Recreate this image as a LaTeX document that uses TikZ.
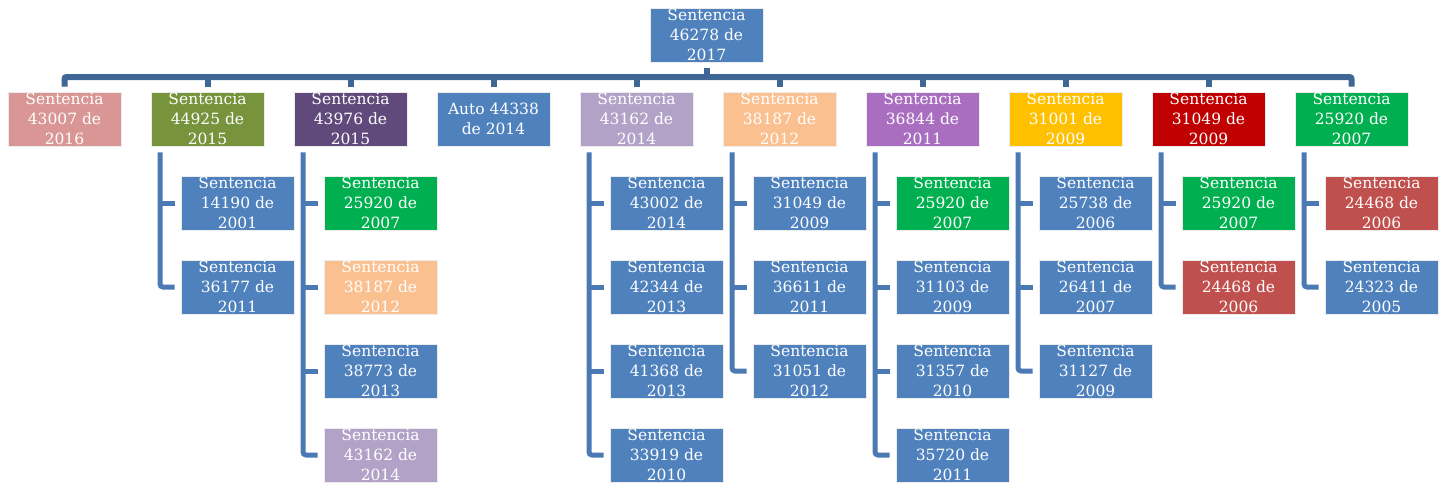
\documentclass[tikz,border=0pt]{standalone}
\usepackage{fontspec}
\setmainfont{DejaVu Serif}
\definecolor{pinkc}{HTML}{D99694}
\definecolor{olivec}{HTML}{77933C}
\definecolor{dpurp}{HTML}{604A7B}
\definecolor{bluec}{HTML}{4F81BD}
\definecolor{lilac}{HTML}{B3A2C7}
\definecolor{peach}{HTML}{FAC090}
\definecolor{violetc}{HTML}{AA6EC0}
\definecolor{goldc}{HTML}{FFC000}
\definecolor{crimson}{HTML}{C00000}
\definecolor{greenc}{HTML}{00B050}
\definecolor{redc}{HTML}{C0504D}
\definecolor{barc}{HTML}{3F6795}
\definecolor{subc}{HTML}{4A79B3}
\newcommand\fsz{\fontsize{15.5}{20}\selectfont}
\newcommand\mybox[5]{\node[bx,fill=#4] (#1) at (#2,#3) {}; \node[txt] at (#1.center) {#5};}
\begin{document}
\begin{tikzpicture}[x=1pt,y=-1pt,
  bx/.style={draw=white!85!gray,line width=0.6pt,minimum width=113pt,minimum height=54pt,inner sep=0pt},
  txt/.style={align=center,text=white,font=\fsz,inner sep=0pt},
  bar/.style={draw=barc,line width=6pt},
  sub/.style={draw=subc,line width=5pt}]
\useasboundingbox (0,0) rectangle (1442,483);
% top
\mybox{top}{706.5}{35}{bluec}{Sentencia\\46278 de\\2017}
% level 1
\mybox{b1}{64.5}{119}{pinkc}{Sentencia\\43007 de\\2016}
\mybox{b2}{207.5}{119}{olivec}{Sentencia\\44925 de\\2015}
\mybox{b3}{350.5}{119}{dpurp}{Sentencia\\43976 de\\2015}
\mybox{b4}{493.5}{119}{bluec}{Auto 44338\\de 2014}
\mybox{b5}{636.5}{119}{lilac}{Sentencia\\43162 de\\2014}
\mybox{b6}{779.5}{119}{peach}{Sentencia\\38187 de\\2012}
\mybox{b7}{922.5}{119}{violetc}{Sentencia\\36844 de\\2011}
\mybox{b8}{1065.5}{119}{goldc}{Sentencia\\31001 de\\2009}
\mybox{b9}{1208.5}{119}{crimson}{Sentencia\\31049 de\\2009}
\mybox{b10}{1351.5}{119}{greenc}{Sentencia\\25920 de\\2007}
% children of b2
\mybox{c2a}{237.5}{203}{bluec}{Sentencia\\14190 de\\2001}
\mybox{c2b}{237.5}{287}{bluec}{Sentencia\\36177 de\\2011}
% children of b3
\mybox{c3a}{380.5}{203}{greenc}{Sentencia\\25920 de\\2007}
\mybox{c3b}{380.5}{287}{peach}{Sentencia\\38187 de\\2012}
\mybox{c3c}{380.5}{371}{bluec}{Sentencia\\38773 de\\2013}
\mybox{c3d}{380.5}{455}{lilac}{Sentencia\\43162 de\\2014}
% children of b5
\mybox{c5a}{666.5}{203}{bluec}{Sentencia\\43002 de\\2014}
\mybox{c5b}{666.5}{287}{bluec}{Sentencia\\42344 de\\2013}
\mybox{c5c}{666.5}{371}{bluec}{Sentencia\\41368 de\\2013}
\mybox{c5d}{666.5}{455}{bluec}{Sentencia\\33919 de\\2010}
% children of b6
\mybox{c6a}{809.5}{203}{bluec}{Sentencia\\31049 de\\2009}
\mybox{c6b}{809.5}{287}{bluec}{Sentencia\\36611 de\\2011}
\mybox{c6c}{809.5}{371}{bluec}{Sentencia\\31051 de\\2012}
% children of b7
\mybox{c7a}{952.5}{203}{greenc}{Sentencia\\25920 de\\2007}
\mybox{c7b}{952.5}{287}{bluec}{Sentencia\\31103 de\\2009}
\mybox{c7c}{952.5}{371}{bluec}{Sentencia\\31357 de\\2010}
\mybox{c7d}{952.5}{455}{bluec}{Sentencia\\35720 de\\2011}
% children of b8
\mybox{c8a}{1095.5}{203}{bluec}{Sentencia\\25738 de\\2006}
\mybox{c8b}{1095.5}{287}{bluec}{Sentencia\\26411 de\\2007}
\mybox{c8c}{1095.5}{371}{bluec}{Sentencia\\31127 de\\2009}
% children of b9
\mybox{c9a}{1238.5}{203}{greenc}{Sentencia\\25920 de\\2007}
\mybox{c9b}{1238.5}{287}{redc}{Sentencia\\24468 de\\2006}
% children of b10
\mybox{c10a}{1381.5}{203}{redc}{Sentencia\\24468 de\\2006}
\mybox{c10b}{1381.5}{287}{bluec}{Sentencia\\24323 de\\2005}
% main bar
\coordinate (bary) at (0,77);
\draw[bar,rounded corners=2pt] ([yshift=5pt]b1.north) -- (b1.north |- bary) -- (b10.north |- bary) -- ([yshift=5pt]b10.north);
\draw[bar] ([yshift=-6pt]top.south) -- (top.south |- bary);
\foreach \b in {b2,b3,b4,b5,b6,b7,b8,b9}{
  \draw[bar] ([yshift=5pt]\b.north) -- (\b.north |- bary);
}
% sub connectors
\foreach \p/\last/\mids in {b2/c2b/{c2a},b3/c3d/{c3a,c3b,c3c},b5/c5d/{c5a,c5b,c5c},b6/c6c/{c6a,c6b},b7/c7d/{c7a,c7b,c7c},b8/c8c/{c8a,c8b},b9/c9b/{c9a},b10/c10b/{c10a}}{
  \coordinate (pL) at ([xshift=-47.5pt,yshift=-6pt]\p.south);
  \draw[sub,rounded corners=3pt] (pL) |- ([xshift=-6pt]\last.west);
  \foreach \m in \mids {
    \draw[sub] ([xshift=-6pt]\m.west) -- (\m.west -| pL);
  }
}
\end{tikzpicture}
\end{document}
